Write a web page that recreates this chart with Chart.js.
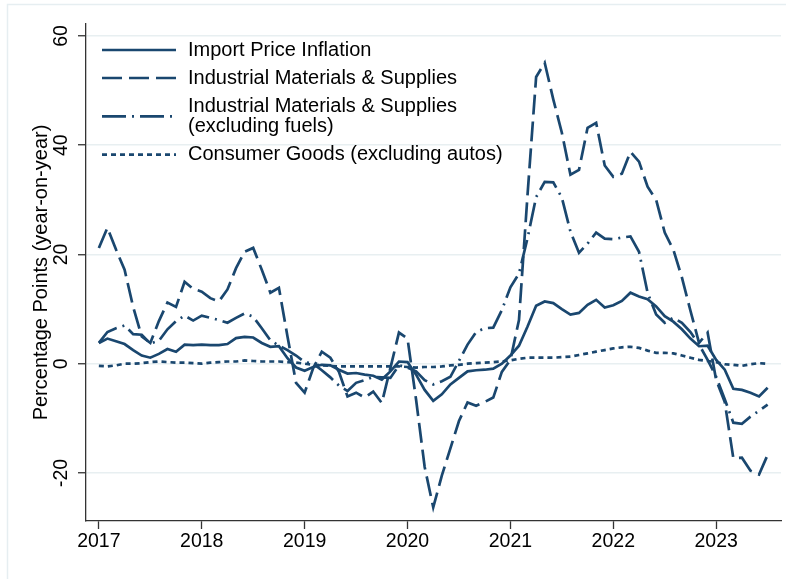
<!DOCTYPE html>
<html>
<head>
<meta charset="utf-8">
<script src="https://cdn.jsdelivr.net/npm/chart.js@4.4.1/dist/chart.umd.min.js"></script>
<style>
  html, body { margin: 0; padding: 0; background: #fff; }
  #wrap { width: 786px; height: 579px; }
</style>
</head>
<body>
<div id="wrap"><canvas id="chart" width="786" height="579"></canvas></div>
<script>
// monthly observations, Jan 2017 .. Jul 2023
const firstYear = 2017;
const monthCount = 79;
const yearTicks = [2017, 2018, 2019, 2020, 2021, 2022, 2023];
const valueTicks = [-20, 0, 20, 40, 60];
const yTitle = 'Percentage Points (year-on-year)';

const seriesLabels = [
  'Import Price Inflation',
  'Industrial Materials & Supplies',
  'Industrial Materials & Supplies\n(excluding fuels)',
  'Consumer Goods (excluding autos)',
];

const importPrice = [
  3.8, 4.6, 4.1, 3.6, 2.5, 1.5, 1.1, 1.8, 2.7, 2.2, 3.5, 3.4,
  3.5, 3.4, 3.4, 3.6, 4.7, 4.9, 4.8, 3.8, 3.1, 3.2, 1.0, -0.7,
  -1.3, -0.6, -0.2, -0.3, -1.1, -1.8, -1.7, -2.0, -2.2, -2.9, -1.4, 0.4,
  0.3, -2.0, -4.8, -6.8, -5.6, -3.8, -2.6, -1.4, -1.2, -1.1, -0.9, 0.0,
  1.5, 3.3, 6.8, 10.6, 11.4, 11.1, 10.0, 9.0, 9.3, 10.8, 11.7, 10.3,
  10.7, 11.5, 13.0, 12.3, 11.8, 10.5, 8.7, 7.7, 6.3, 4.6, 3.2, 3.3,
  0.7, -1.1, -4.6, -4.8, -5.3, -6.0, -4.4,
];

const industrial = [
  21.2, 24.9, 20.9, 17.2, 10.4, 5.0, 3.8, 7.8, 11.2, 10.4, 15.0, 13.7,
  13.2, 12.0, 11.4, 13.6, 17.5, 20.5, 21.2, 17.2, 13.0, 13.9, 5.0, -3.5,
  -5.3, -0.8, 2.2, 1.1, -1.5, -6.0, -5.3, -6.2, -5.1, -7.2, -0.8, 5.7,
  4.6, -6.6, -18.9, -26.3, -20.5, -15.5, -10.5, -7.1, -7.7, -7.0, -6.2, -1.5,
  0.7, 8.0, 31.0, 52.5, 55.1, 48.4, 42.3, 34.6, 35.5, 43.2, 44.1, 36.3,
  34.2, 34.8, 38.8, 37.0, 32.4, 30.0, 24.0, 20.9, 15.8, 9.7, 3.8, 5.7,
  -3.0, -7.0, -17.3, -17.2, -19.6, -20.3, -16.7,
];

const industrialExFuels = [
  3.8, 5.8, 6.5, 7.0, 5.4, 5.3, 3.7, 4.2, 6.3, 7.8, 8.8, 7.9,
  8.8, 8.4, 8.0, 7.5, 8.4, 9.2, 8.6, 6.5, 4.3, 3.3, 2.5, 1.5,
  0.3, 0.0, -1.2, -2.5, -4.0, -5.0, -3.5, -3.0, -2.4, -2.5, -2.6, -0.3,
  -0.7, -1.4, -3.0, -3.8, -3.2, -2.4, 0.5, 3.5, 5.8, 6.5, 6.6, 9.8,
  14.0, 16.5, 23.0, 30.5, 33.3, 33.2, 30.4, 24.2, 20.3, 22.0, 24.0, 22.9,
  22.8, 23.1, 23.3, 20.5, 13.0, 9.0, 7.5, 8.4, 7.5, 5.8, 3.5, 0.7,
  -2.4, -6.5, -10.8, -11.0, -9.7, -8.6, -7.5,
];

const consumerGoods = [
  -0.4, -0.5, -0.3, 0.0, 0.0, 0.1, 0.3, 0.4, 0.3, 0.2, 0.2, 0.1,
  0.0, 0.2, 0.3, 0.4, 0.4, 0.6, 0.5, 0.4, 0.4, 0.4, 0.3, 0.2,
  0.0, -0.2, -0.3, -0.4, -0.5, -0.5, -0.5, -0.5, -0.5, -0.5, -0.5, -0.5,
  -0.6, -0.7, -0.6, -0.6, -0.5, -0.3, -0.2, 0.0, 0.1, 0.2, 0.3, 0.4,
  0.6, 0.9, 1.1, 1.1, 1.1, 1.1, 1.2, 1.3, 1.6, 1.9, 2.2, 2.5,
  2.8, 3.0, 3.1, 2.9, 2.4, 2.0, 2.0, 1.9, 1.5, 1.1, 0.7, 0.5,
  0.3, -0.1, -0.2, -0.4, -0.1, 0.1, 0.0,
];

const navy = '#1a476f';
const axisColor = '#333333';
const gridColor = '#e8eff1';
const fontFamily = '"Liberation Sans", Arial, sans-serif';

const monthDates = [];
for (let i = 0; i < monthCount; i++) {
  monthDates.push(firstYear + i / 12);
}

function toPoints(values) {
  return values.map((v, i) => ({ x: monthDates[i], y: v }));
}

const lineStyles = [[], [20, 7], [24, 6, 2, 6], [5, 4]];
const allSeries = [importPrice, industrial, industrialExFuels, consumerGoods];

const datasets = allSeries.map((values, i) => ({
  label: seriesLabels[i],
  data: toPoints(values),
  borderColor: navy,
  borderWidth: 2.7,
  borderDash: lineStyles[i],
  borderCapStyle: 'butt',
  pointRadius: 0,
  tension: 0,
  fill: false,
}));

// Stata-like legend drawn inside the plot, with multi-line entries
const insideLegend = {
  id: 'insideLegend',
  afterDatasetsDraw(chart) {
    const { ctx } = chart;
    const lineGap = 20.7;
    let y = 50;
    ctx.save();
    ctx.font = '20px ' + fontFamily;
    ctx.fillStyle = '#000';
    ctx.textBaseline = 'middle';
    ctx.textAlign = 'left';
    chart.data.datasets.forEach((ds) => {
      const lines = ds.label.split('\n');
      const midY = y + ((lines.length - 1) * lineGap) / 2;
      ctx.beginPath();
      ctx.setLineDash(ds.borderDash);
      ctx.lineWidth = ds.borderWidth;
      ctx.strokeStyle = ds.borderColor;
      ctx.lineCap = 'butt';
      ctx.moveTo(102, midY);
      ctx.lineTo(176, midY);
      ctx.stroke();
      ctx.setLineDash([]);
      lines.forEach((line, k) => ctx.fillText(line, 188, y + k * lineGap));
      y += (lines.length - 1) * lineGap + 28;
    });
    ctx.restore();
  },
};

// faint outline round the graph region
const regionOutline = {
  id: 'regionOutline',
  beforeDraw(chart) {
    const { ctx } = chart;
    ctx.save();
    ctx.strokeStyle = '#e6eef1';
    ctx.lineWidth = 1.5;
    ctx.strokeRect(7.5, 4.5, 820, 620);
    ctx.restore();
  },
};

new Chart(document.getElementById('chart'), {
  type: 'line',
  data: { datasets },
  plugins: [regionOutline, insideLegend],
  options: {
    responsive: false,
    animation: false,
    devicePixelRatio: 1,
    layout: { padding: { top: 24, right: 5, left: 0, bottom: 0 } },
    plugins: {
      legend: { display: false },
      tooltip: { enabled: false },
    },
    scales: {
      x: {
        type: 'linear',
        min: 2016.875,
        max: 2023.63,
        afterBuildTicks: (scale) => {
          scale.ticks = yearTicks.map((v) => ({ value: v }));
        },
        afterFit: (scale) => {
          scale.height = 58;
        },
        grid: {
          display: true,
          drawOnChartArea: false,
          drawTicks: true,
          tickLength: 8,
          tickColor: axisColor,
          tickWidth: 1.3,
        },
        border: { display: true, color: axisColor, width: 1.3 },
        ticks: {
          color: '#000',
          padding: 1,
          maxRotation: 0,
          autoSkip: false,
          font: { family: fontFamily, size: 19.5 },
          callback: (v) => String(v),
        },
      },
      y: {
        min: -28.8,
        max: 62.2,
        afterBuildTicks: (scale) => {
          scale.ticks = valueTicks.map((v) => ({ value: v }));
        },
        afterFit: (scale) => {
          scale.width = 86;
        },
        grid: {
          color: gridColor,
          lineWidth: 1.5,
          drawTicks: true,
          tickLength: 8,
          tickColor: axisColor,
          tickWidth: 1.3,
        },
        border: { display: true, color: axisColor, width: 1.3 },
        title: {
          display: true,
          text: yTitle,
          color: '#000',
          font: { family: fontFamily, size: 20 },
          padding: { top: 29, bottom: 0 },
        },
        ticks: {
          color: '#000',
          minRotation: 90,
          maxRotation: 90,
          crossAlign: 'center',
          padding: 2,
          autoSkip: false,
          font: { family: fontFamily, size: 19.5 },
          callback: (v) => String(v),
        },
      },
    },
  },
});
</script>
</body>
</html>
